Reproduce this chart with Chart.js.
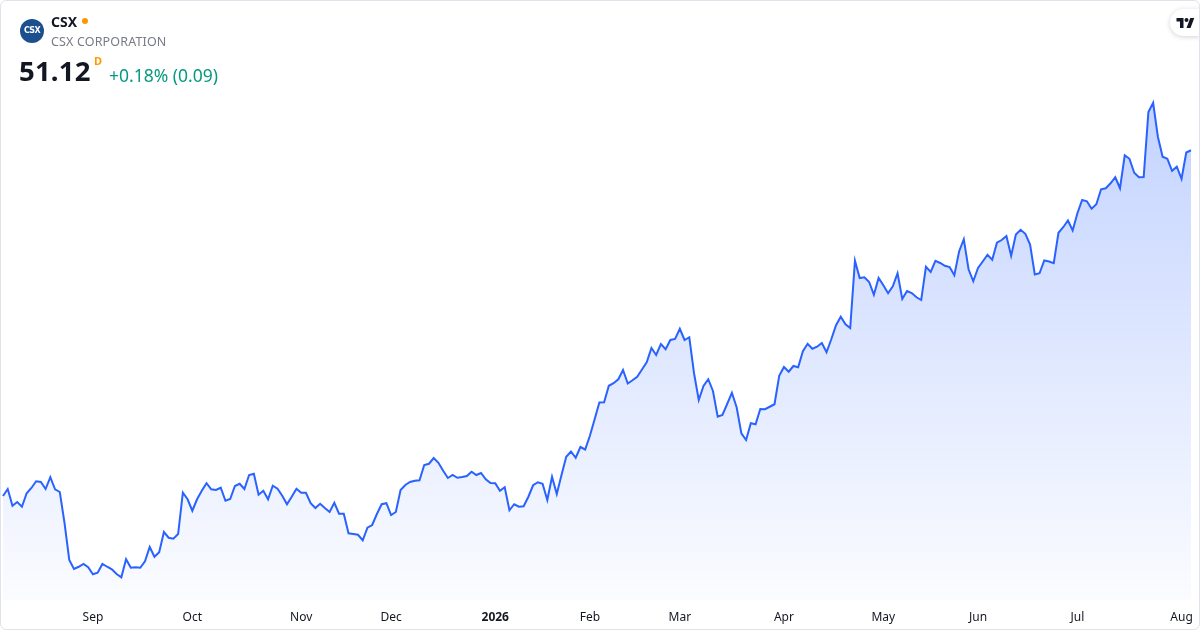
<!DOCTYPE html>
<html>
<head>
<meta charset="utf-8">
<script src="https://cdn.jsdelivr.net/npm/chart.js@4.4.1/dist/chart.umd.min.js"></script>
<style>
  html, body { margin: 0; padding: 0; background: #ffffff; }
  body { width: 1200px; height: 630px; overflow: hidden; font-family: "Noto Sans", Roboto, sans-serif; }
  #frame { position: relative; width: 1198px; height: 628px; border: 1px solid #e0e3eb; border-radius: 6px; overflow: hidden; }
  #myChart { position: absolute; left: -1px; top: -1px; }
  .logo { position: absolute; left: 19px; top: 18px; width: 24px; height: 24px; border-radius: 50%; background: #1c4f8e;
    color: #fff; font: bold 8px "DejaVu Sans", sans-serif; text-align: center; line-height: 24px; letter-spacing: -0.6px; }
  .ticker { position: absolute; left: 50px; top: 11px; font-size: 14px; font-weight: bold; color: #131722; }
  .dot { position: absolute; left: 81px; top: 17px; width: 6px; height: 6px; border-radius: 50%; background: #ff9800; }
  .name { position: absolute; left: 50px; top: 32px; font-size: 12.5px; color: #787b86; letter-spacing: 0.15px; }
  .price { position: absolute; left: 18px; top: 51px; font-size: 27.5px; font-weight: bold; color: #131722; letter-spacing: 0.2px; }
  .sup { position: absolute; left: 93px; top: 52px; font-size: 11px; font-weight: bold; color: #ff9800; }
  .change { position: absolute; left: 108px; top: 62px; font-size: 17.5px; color: #089981; }
  .tv { position: absolute; right: -1px; top: 8px; width: 30px; height: 27px; background: #fff; border-radius: 14px 0 0 14px;
    box-shadow: 0 1px 5px rgba(0,0,0,0.18); }
  .tv svg { position: absolute; left: 6px; top: 8px; }
</style>
</head>
<body>
<div id="frame">
  <canvas id="myChart" width="1200" height="630"></canvas>
  <div class="logo">CSX</div>
  <div class="ticker">CSX</div>
  <div class="dot"></div>
  <div class="name">CSX CORPORATION</div>
  <div class="price">51.12</div>
  <div class="sup">D</div>
  <div class="change">+0.18% (0.09)</div>
  <div class="tv"><svg width="19" height="12" viewBox="0 0 36 24"><path d="M14 22H7V9H0V2h14v20zM28 22h-8l7.5-20h8L28 22z" fill="#131722"/><circle cx="20" cy="6" r="4" fill="#131722"/></svg></div>
</div>
<script>
// daily closes, 5 Aug 2025 - 5 Aug 2026
const closes = [
  37.29, 37.57, 36.90, 37.05, 36.86, 37.40, 37.61, 37.88, 37.85, 37.57,
  38.04, 37.56, 37.45, 36.21, 34.73, 34.37, 34.46, 34.57, 34.44, 34.16,
  34.22, 34.57, 34.46, 34.36, 34.17, 34.04, 34.76, 34.42, 34.44, 34.42,
  34.68, 35.25, 34.86, 35.04, 35.85, 35.62, 35.58, 35.77, 37.42, 37.16,
  36.70, 37.16, 37.50, 37.80, 37.56, 37.53, 37.62, 37.10, 37.17, 37.69,
  37.78, 37.57, 38.13, 38.18, 37.34, 37.50, 37.16, 37.70, 37.58, 37.30,
  36.96, 37.26, 37.58, 37.42, 37.42, 37.00, 36.81, 36.98, 36.81, 36.65,
  37.02, 36.58, 36.58, 35.80, 35.77, 35.74, 35.52, 36.02, 36.13, 36.57,
  36.96, 37.00, 36.53, 36.65, 37.53, 37.73, 37.85, 37.90, 37.92, 38.53,
  38.58, 38.81, 38.62, 38.30, 38.01, 38.13, 38.02, 38.05, 38.09, 38.26,
  38.13, 38.21, 37.96, 37.81, 37.80, 37.50, 37.64, 36.72, 36.96, 36.86,
  36.88, 37.26, 37.72, 37.84, 37.78, 37.13, 38.06, 37.37, 38.13, 38.86,
  39.07, 38.82, 39.25, 39.15, 39.70, 40.36, 41.03, 41.04, 41.70, 41.80,
  41.96, 42.33, 41.79, 41.92, 42.06, 42.35, 42.64, 43.21, 42.93, 43.37,
  43.16, 43.53, 43.57, 43.98, 43.53, 43.64, 42.20, 41.13, 41.69, 41.96,
  41.49, 40.46, 40.53, 40.97, 41.42, 40.84, 39.80, 39.53, 40.20, 40.16,
  40.77, 40.76, 40.86, 40.96, 42.10, 42.45, 42.26, 42.49, 42.44, 43.08,
  43.38, 43.18, 43.26, 43.41, 43.04, 43.56, 44.12, 44.46, 44.16, 44.01,
  46.70, 46.01, 46.04, 45.85, 45.34, 46.01, 45.72, 45.40, 45.68, 46.20,
  45.17, 45.49, 45.41, 45.24, 45.13, 46.46, 46.25, 46.70, 46.61, 46.50,
  46.45, 46.12, 47.07, 47.56, 46.36, 45.88, 46.41, 46.67, 46.94, 46.74,
  47.42, 47.53, 47.69, 46.90, 47.75, 47.94, 47.78, 47.35, 46.15, 46.20,
  46.71, 46.67, 46.60, 47.82, 48.04, 48.31, 47.91, 48.60, 49.13, 49.08,
  48.78, 48.96, 49.56, 49.60, 49.80, 50.04, 49.60, 50.92, 50.78, 50.22,
  50.04, 50.05, 52.65, 53.02, 51.66, 50.86, 50.78, 50.30, 50.46, 49.98,
  51.03, 51.12
];

const firstDay = "2025-08-05";
const holidays = [
  "2025-09-01", "2025-11-27", "2025-12-25", "2026-01-01", "2026-01-19",
  "2026-02-16", "2026-04-03", "2026-05-25", "2026-06-19", "2026-07-03",
];
const monthNames = ["2026", "Feb", "Mar", "Apr", "May", "Jun", "Jul", "Aug", "Sep", "Oct", "Nov", "Dec"];

// build trading day labels, one per close
const dates = [];
let d = new Date(firstDay + "T00:00:00Z");
while (dates.length < closes.length) {
  const iso = d.toISOString().slice(0, 10);
  const wd = d.getUTCDay();
  if (wd != 0 && wd != 6 && holidays.indexOf(iso) == -1) {
    dates.push(iso);
  }
  d.setUTCDate(d.getUTCDate() + 1);
}

// month label on the first trading day of each month
const tickText = dates.map(function (iso, i) {
  if (i == 0) return null;
  if (iso.slice(5, 7) == dates[i - 1].slice(5, 7)) return null;
  return monthNames[parseInt(iso.slice(5, 7), 10) - 1];
});

const ctx = document.getElementById("myChart");
const myChart = new Chart(ctx, {
  type: "line",
  data: {
    labels: dates,
    datasets: [
      {
        label: "CSX",
        data: closes,
        borderColor: "#2962ff",
        borderWidth: 2,
        pointRadius: 0,
        tension: 0,
        fill: "start",
        backgroundColor: function (context) {
          const chart = context.chart;
          const area = chart.chartArea;
          if (!area) return "rgba(41,98,255,0.1)";
          const g = chart.ctx.createLinearGradient(0, 100, 0, area.bottom);
          g.addColorStop(0, "rgba(41,98,255,0.28)");
          g.addColorStop(1, "rgba(41,98,255,0.02)");
          return g;
        },
      },
    ],
  },
  options: {
    responsive: false,
    devicePixelRatio: 1,
    animation: false,
    layout: { padding: { left: 3, right: 9, top: 0, bottom: 0 } },
    plugins: { legend: { display: false }, tooltip: { enabled: false } },
    scales: {
      y: { display: false, min: 33.13, max: 57.13 },
      x: {
        grid: { display: false, drawTicks: false },
        border: { display: false },
        afterFit: function (scale) {
          scale.height = 30;
          scale.paddingLeft = 0;
          scale.paddingRight = 0;
        },
        ticks: {
          autoSkip: false,
          maxRotation: 0,
          padding: 10,
          color: "#131722",
          font: function (c) {
            const bold = c.tick && c.tick.label == "2026";
            return { family: "'Noto Sans', sans-serif", size: 12, weight: bold ? "bold" : "normal" };
          },
          callback: function (value, index) {
            return tickText[index];
          },
        },
      },
    },
  },
});
</script>
</body>
</html>
